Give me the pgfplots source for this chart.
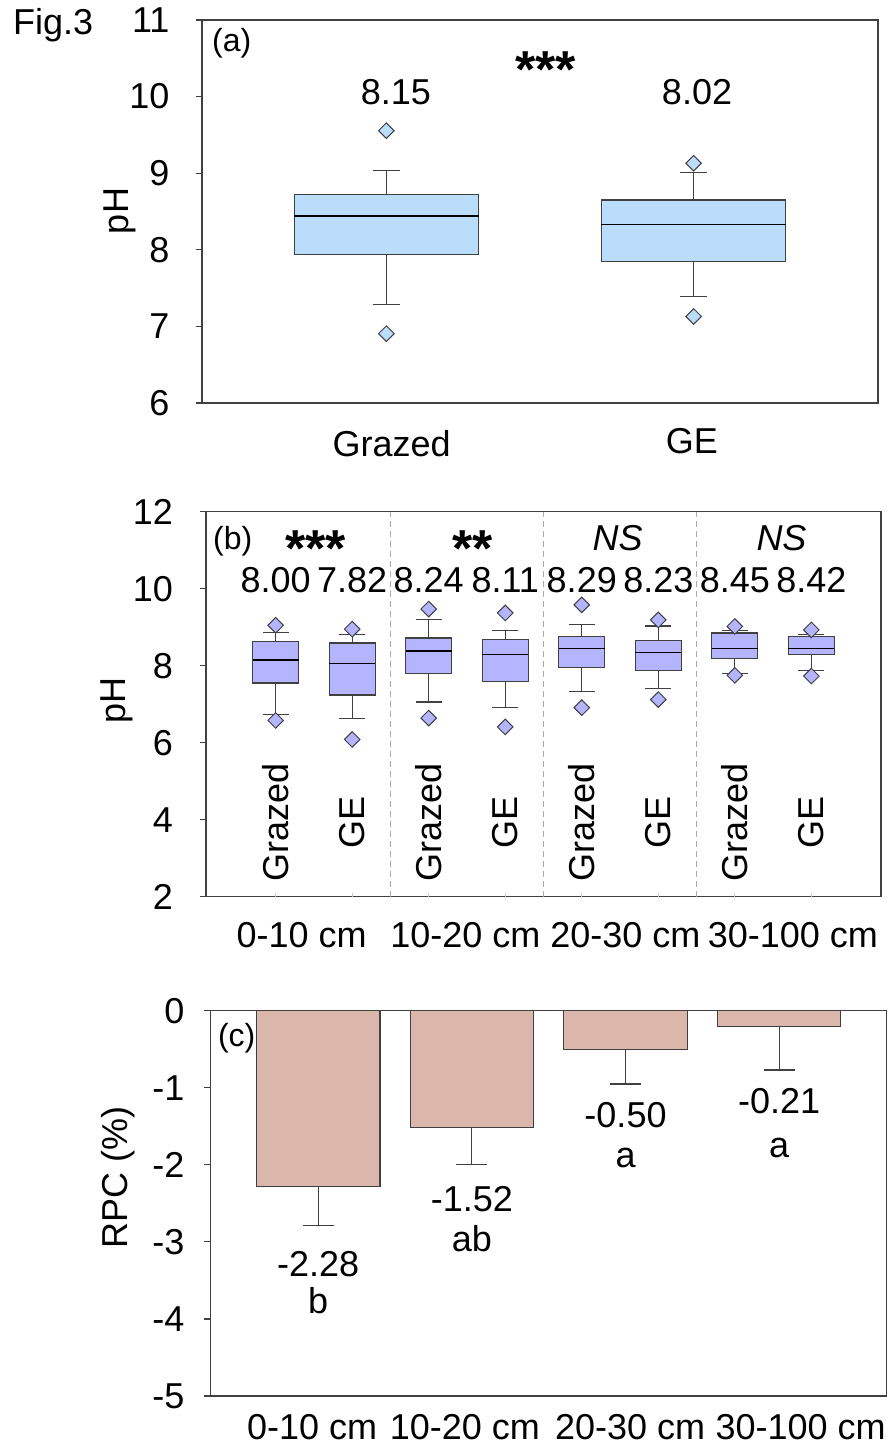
\documentclass[border=0pt]{standalone}
\usepackage{fontspec}
\setmainfont{Liberation Sans}
\usepackage{pgfplots}
\pgfplotsset{compat=1.18}
\usepgfplotslibrary{statistics}
\definecolor{axg}{HTML}{404040}
\definecolor{boxA}{HTML}{B9DDFB}
\definecolor{boxB}{HTML}{B4B4FF}
\definecolor{barC}{HTML}{DBB6AA}
\definecolor{divg}{HTML}{A8A8B8}
\newcommand\fs{\fontsize{18}{21.6}\selectfont}
\newcommand\fsl{\fontsize{16}{19}\selectfont}
\newcommand\fst{\fontsize{26}{26}\selectfont\bfseries}
\pgfplotsset{
  base/.style={scale only axis, clip=false, anchor=south west,
    axis line style={draw=axg, line width=0.6pt},
    tick align=outside, ytick pos=left, major tick length=3.25pt,
    every tick/.style={draw=axg, line width=0.6pt},
    yticklabel style={font=\fs, anchor=east, inner sep=0pt},
    xtick=\empty,
    boxplot/draw direction=y,
  },
  bx/.style={solid, draw=axg, line width=0.6pt, fill=#1,
    mark=square*, mark size=2.75pt,
    mark options={rotate=45, fill=#1, draw=axg, line width=0.5pt},
    boxplot/every median/.style={draw=black, line width=0.7pt}},
}
\tikzset{lab/.style={font=\fs, inner sep=0pt, anchor=base}}
\begin{document}
\begin{tikzpicture}
\useasboundingbox (0pt,0pt) rectangle (446.5pt,-725pt);
\node[font=\fs, inner sep=0pt, anchor=base west] at (6.35pt,-17.15pt) {Fig.3};
% ---------------- panel (a)
\begin{axis}[base, at={(101pt,-201.5pt)}, width=338pt, height=191.5pt,
  xmin=0.4, xmax=2.6, ymin=6, ymax=11,
  ytick={6,7,8,9,10,11}, yticklabels={6,7,8,9,10,11},
  yticklabel style={xshift=-12.8pt}]
\addplot[bx=boxA, boxplot prepared={lower whisker=7.29, lower quartile=7.94,
  median=8.44, upper quartile=8.72, upper whisker=9.04,
  draw position=1, box extend=0.6, whisker extend=0.088}]
  coordinates {(0,9.555) (0,6.905)};
\addplot[bx=boxA, boxplot prepared={lower whisker=7.39, lower quartile=7.845,
  median=8.33, upper quartile=8.65, upper whisker=9.01,
  draw position=2, box extend=0.6, whisker extend=0.088}]
  coordinates {(0,9.13) (0,7.13)};
\node[lab] at (axis cs:1.031,9.903) {8.15};
\node[lab] at (axis cs:2.011,9.903) {8.02};
\node[lab, font=\fst] at (axis cs:1.519,10.125) {***};
\node[lab, font=\fsl, anchor=base west] at (axis cs:0.4316,10.587) {(a)};
\node[lab] at (axis cs:1.017,5.308) {Grazed};
\node[lab] at (axis cs:1.994,5.347) {GE};
\end{axis}
\node[font=\fs, rotate=90, inner sep=0pt] at (60pt,-105.5pt) {pH};
% ---------------- panel (b)
\begin{axis}[base, at={(103pt,-448.35pt)}, width=337.5pt, height=192.5pt,
  xmin=0.09, xmax=8.91, ymin=2, ymax=12,
  ytick={2,4,6,8,10,12}, yticklabels={2,4,6,8,10,12},
  yticklabel style={xshift=-13.1pt}]
\pgfplotsinvokeforeach{2.5,4.5,6.5}{
  \draw[divg, line width=0.5pt, dash pattern=on 3pt off 2pt] (axis cs:#1,2) -- (axis cs:#1,12);
}
\pgfplotsinvokeforeach{1,2,3,4,5,6,7,8}{
  \draw[gray!45, line width=0.4pt] (axis cs:#1,2) -- ++(0pt,2pt);
}
\addplot[bx=boxB, boxplot prepared={lower whisker=6.73, lower quartile=7.55,
  median=8.15, upper quartile=8.63, upper whisker=8.865,
  draw position=1, box extend=0.6, whisker extend=0.34}]
  coordinates {(0,9.05) (0,6.58)};
\addplot[bx=boxB, boxplot prepared={lower whisker=6.62, lower quartile=7.24,
  median=8.055, upper quartile=8.59, upper whisker=8.81,
  draw position=2, box extend=0.6, whisker extend=0.34}]
  coordinates {(0,8.95) (0,6.085)};
\addplot[bx=boxB, boxplot prepared={lower whisker=7.06, lower quartile=7.80,
  median=8.38, upper quartile=8.72, upper whisker=9.19,
  draw position=3, box extend=0.6, whisker extend=0.34}]
  coordinates {(0,9.47) (0,6.64)};
\addplot[bx=boxB, boxplot prepared={lower whisker=6.92, lower quartile=7.59,
  median=8.29, upper quartile=8.68, upper whisker=8.92,
  draw position=4, box extend=0.6, whisker extend=0.34}]
  coordinates {(0,9.37) (0,6.41)};
\addplot[bx=boxB, boxplot prepared={lower whisker=7.32, lower quartile=7.96,
  median=8.45, upper quartile=8.75, upper whisker=9.06,
  draw position=5, box extend=0.6, whisker extend=0.34}]
  coordinates {(0,9.58) (0,6.91)};
\addplot[bx=boxB, boxplot prepared={lower whisker=7.40, lower quartile=7.87,
  median=8.35, upper quartile=8.66, upper whisker=9.03,
  draw position=6, box extend=0.6, whisker extend=0.34}]
  coordinates {(0,9.19) (0,7.12)};
\addplot[bx=boxB, boxplot prepared={lower whisker=7.80, lower quartile=8.18,
  median=8.45, upper quartile=8.85, upper whisker=8.92,
  draw position=7, box extend=0.6, whisker extend=0.34}]
  coordinates {(0,9.02) (0,7.75)};
\addplot[bx=boxB, boxplot prepared={lower whisker=7.87, lower quartile=8.29,
  median=8.44, upper quartile=8.75, upper whisker=8.81,
  draw position=8, box extend=0.6, whisker extend=0.34}]
  coordinates {(0,8.93) (0,7.73)};
\node[lab, font=\fsl, anchor=base west] at (axis cs:0.178,11.03) {(b)};
\node[lab, font=\fst] at (axis cs:1.526,10.58) {***};
\node[lab, font=\fst] at (axis cs:3.576,10.58) {**};
\node[lab, font=\fs\itshape] at (axis cs:5.47,11.0) {NS};
\node[lab, font=\fs\itshape] at (axis cs:7.61,11.0) {NS};
\node[lab] at (axis cs:1,9.89) {8.00};
\node[lab] at (axis cs:2,9.89) {7.82};
\node[lab] at (axis cs:3,9.89) {8.24};
\node[lab] at (axis cs:4,9.89) {8.11};
\node[lab] at (axis cs:5,9.89) {8.29};
\node[lab] at (axis cs:6,9.89) {8.23};
\node[lab] at (axis cs:7,9.89) {8.45};
\node[lab] at (axis cs:8,9.89) {8.42};
\pgfplotsinvokeforeach{1,3,5,7}{
  \node[font=\fs, inner sep=0pt, rotate=90] at (axis cs:#1,3.94) {Grazed};
}
\pgfplotsinvokeforeach{2,4,6,8}{
  \node[font=\fs, inner sep=0pt, rotate=90] at (axis cs:#1,3.94) {GE};
}
\node[lab] at (axis cs:1.34,0.69) {0-10 cm};
\node[lab] at (axis cs:3.48,0.69) {10-20 cm};
\node[lab] at (axis cs:5.57,0.69) {20-30 cm};
\node[lab] at (axis cs:7.76,0.69) {30-100 cm};
\end{axis}
\node[font=\fs, rotate=90, inner sep=0pt] at (58.35pt,-350pt) {pH};
% ---------------- panel (c)
\begin{axis}[base, at={(105.35pt,-698pt)}, width=338pt, height=192.65pt,
  xmin=-0.7, xmax=3.7, ymin=-5, ymax=0,
  ytick={-5,-4,-3,-2,-1,0}, yticklabels={-5,-4,-3,-2,-1,0},
  yticklabel style={xshift=-9.7pt}]
\addplot[ybar, bar width=61.7pt, bar shift=0pt, fill=barC, draw=axg, line width=0.6pt,
  error bars/.cd, y dir=minus, y explicit, error mark=|,
  error bar style={draw=axg, line width=0.6pt},
  error mark options={draw=axg, mark size=7.75pt, line width=0.6pt}]
  coordinates {(0,-2.28) -= (0,0.51) (1,-1.52) -= (0,0.48) (2,-0.50) -= (0,0.45) (3,-0.21) -= (0,0.56)};
\node[lab, font=\fsl, anchor=base west] at (axis cs:-0.655,-0.458) {(c)};
\node[lab] at (axis cs:0,-3.443) {-2.28};
\node[lab] at (axis cs:0,-3.923) {b};
\node[lab] at (axis cs:1,-2.60) {-1.52};
\node[lab] at (axis cs:1,-3.13) {ab};
\node[lab] at (axis cs:2,-1.51) {-0.50};
\node[lab] at (axis cs:2,-2.04) {a};
\node[lab] at (axis cs:3,-1.34) {-0.21};
\node[lab] at (axis cs:3,-1.90) {a};
\node[lab] at (axis cs:-0.04,-5.57) {0-10 cm};
\node[lab] at (axis cs:0.955,-5.57) {10-20 cm};
\node[lab] at (axis cs:2.03,-5.57) {20-30 cm};
\node[lab] at (axis cs:3.14,-5.57) {30-100 cm};
\end{axis}
\node[font=\fs, rotate=90, inner sep=0pt] at (59pt,-588.5pt) {RPC (\%)};
\end{tikzpicture}
\end{document}
